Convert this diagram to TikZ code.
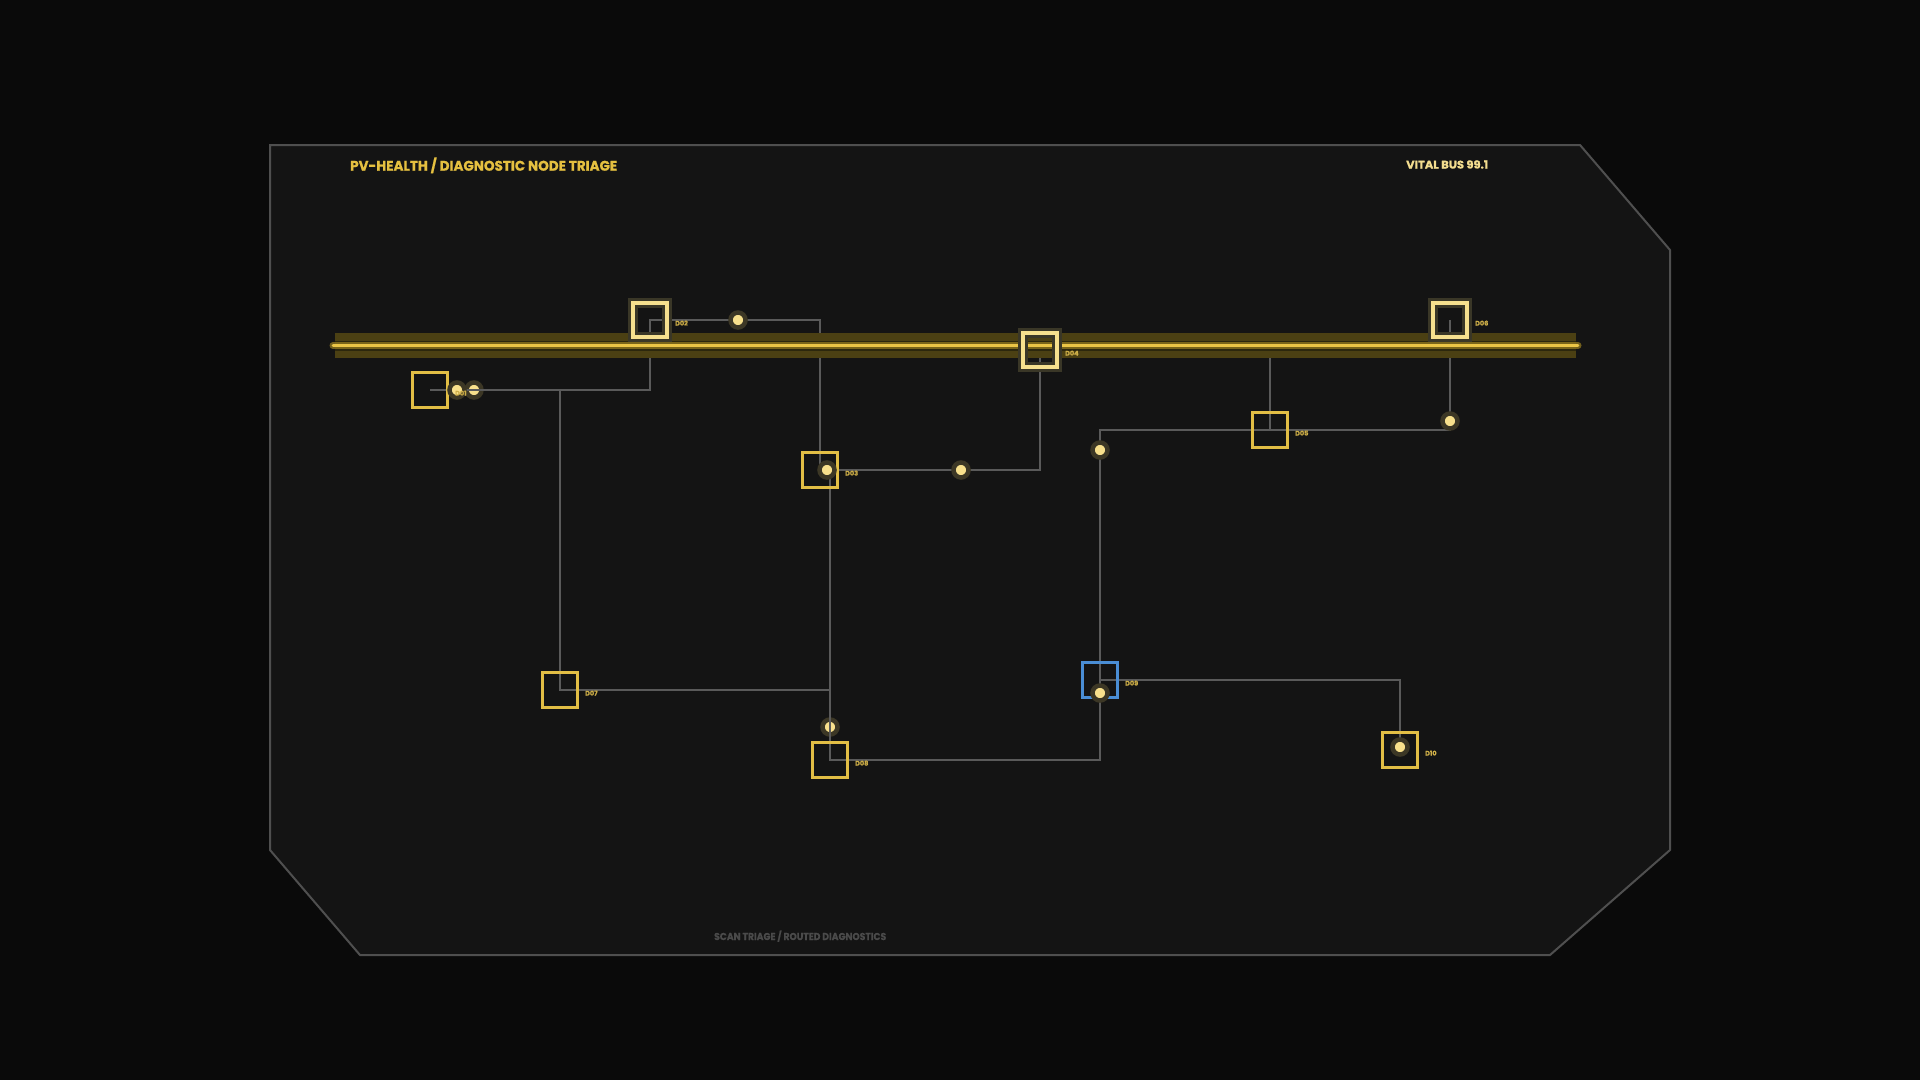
\documentclass[tikz,border=0pt]{standalone}
\usepackage{fontspec}
\setmainfont{Poppins}
\newfontfamily\heavy{Poppins}[BoldFeatures={FakeBold=0.8}]
\usepackage{graphicx}
\usetikzlibrary{calc}
\definecolor{outerbg}{HTML}{0A0A0A}
\definecolor{panel}{HTML}{141414}
\definecolor{framec}{HTML}{4F4F4F}
\definecolor{wirec}{HTML}{5A5A5A}
\definecolor{bandc}{HTML}{4B4013}
\definecolor{banddark}{HTML}{2C270D}
\definecolor{busline}{HTML}{EBC546}
\definecolor{busglow}{HTML}{9A8020}
\definecolor{sqc}{HTML}{E2BE45}
\definecolor{sqpale}{HTML}{F6E08E}
\definecolor{halo}{HTML}{3A3727}
\definecolor{bluec}{HTML}{4A8ED6}
\definecolor{dotc}{HTML}{F8E08C}
\definecolor{dothalo}{HTML}{3C3725}
\definecolor{labc}{HTML}{CDAE48}
\definecolor{titlec}{HTML}{E5C040}
\definecolor{vitalc}{HTML}{F3DD8F}
\definecolor{footc}{HTML}{4A4A4A}
\pgfdeclarelayer{bg}
\pgfdeclarelayer{under}
\pgfdeclarelayer{wires}
\pgfdeclarelayer{bus}
\pgfsetlayers{bg,under,wires,bus,main}
\tikzset{
  wire/.style={draw=wirec, line width=2.2pt},
  sq/.style={rectangle, draw=sqc, line width=2.5pt, minimum size=35pt, inner sep=0pt},
  sqs/.style={rectangle, draw=sqpale, line width=3.5pt, minimum size=34pt, inner sep=0pt,
     preaction={draw=halo, line width=10pt, rounded corners=3pt}},
  sqb/.style={sq, draw=bluec},
  dot/.style={circle, minimum size=15pt, inner sep=0pt, fill=dotc, draw=dothalo, line width=4.5pt},
  lab/.style={anchor=base west, inner sep=0pt, text=labc, font=\heavy\fontsize{6.5}{7}\selectfont\bfseries},
}
\begin{document}
\begin{tikzpicture}[x=1pt,y=-1pt]
\useasboundingbox (0,0) rectangle (1920,1080);
\begin{pgfonlayer}{bg}
\fill[outerbg] (0,0) rectangle (1920,1080);
\draw[framec, line width=2pt, fill=panel] (270,145) -- (1580,145) -- (1670,250) -- (1670,850) -- (1550,955) -- (360,955) -- (270,850) -- cycle;
\end{pgfonlayer}

% nodes
\node[sq]  (D01) at (430,390) {};
\node[sqs] (D02) at (650,320) {};
\node[sq]  (D03) at (820,470) {};
\node[sqs] (D04) at (1040,350) {};
\node[sq]  (D05) at (1270,430) {};
\node[sqs] (D06) at (1450,320) {};
\node[sq]  (D07) at (560,690) {};
\node[sq]  (D08) at (830,760) {};
\node[sqb] (D09) at (1100,680) {};
\node[sq]  (D10) at (1400,750) {};

\coordinate (busL) at (333,345.5);
\coordinate (busR) at (1578,345.5);
\coordinate (D03out) at (830,470);

% dots under wires
\begin{pgfonlayer}{under}
\node[dot] (j2) at (474,390) {};
\node[dot] (j6) at (830,727) {};
\end{pgfonlayer}

% wires
\begin{pgfonlayer}{wires}
\draw[wire] (D01.center) -- (D02.center |- D01.center) -- (D02.center) -- (D03.center |- D02.center) -- (D03.center);
\draw[wire] (D07.center |- D01.center) -- (D07.center) -- (D03out |- D07.center);
\draw[wire] (D03out) -- (D08.center) -- (D09.center |- D08.center) -- (D09.center |- D05.center) -- (D06.center |- D05.center) -- (D06.center);
\draw[wire] (D03out) -- (D04.center |- D03out) -- (D04.center);
\draw[wire] (D05.center) -- (D05.center |- busL);
\draw[wire] (D09.center) -| (D10.center);
\end{pgfonlayer}

% bus
\begin{pgfonlayer}{bus}
\fill[bandc] (335,333) rectangle (1576,358);
\fill[banddark] (335,341) rectangle (1576,350.5);
\draw[busglow, line width=7pt, line cap=round, opacity=0.7] (busL) -- (busR);
\draw[busline, line width=2.8pt, line cap=round] (busL) -- (busR);
\end{pgfonlayer}

% redraw strong square over bus
\node[sqs] at (D04.center) {};

% dots
\node[dot] (j1) at (457,390) {};
\node[dot] (j3) at (738,320) {};
\node[dot] (j4) at (827,470) {};
\node[dot] (j5) at (961,470) {};
\node[dot] (j7) at (1100,450) {};
\node[dot] (j8) at (1450,421) {};
\node[dot] (j9) at (1100,693) {};
\node[dot] (j10) at (1400,747) {};

% labels
\foreach \n in {D01,D02,D03,D04,D05,D06,D07,D08,D09,D10}{
  \node[lab] (l\n) at ($(\n.center)+(25,5.5)$) {\n};
}

% texts
\node[anchor=base west, inner sep=0pt, text=titlec] (title) at (350,170.7)
  {\resizebox{267pt}{\height}{\heavy\fontsize{14}{14}\selectfont\bfseries PV-HEALTH / DIAGNOSTIC NODE TRIAGE}};
\node[anchor=base west, inner sep=0pt, text=vitalc] (vital) at (1406,168.5)
  {\resizebox{82pt}{\height}{\heavy\fontsize{11}{11}\selectfont\bfseries VITAL BUS 99.1}};
\node[anchor=base west, inner sep=0pt, text=footc] (foot) at (714,940)
  {\resizebox{172pt}{\height}{\heavy\fontsize{10}{10}\selectfont\bfseries SCAN TRIAGE / ROUTED DIAGNOSTICS}};
\end{tikzpicture}
\end{document}
